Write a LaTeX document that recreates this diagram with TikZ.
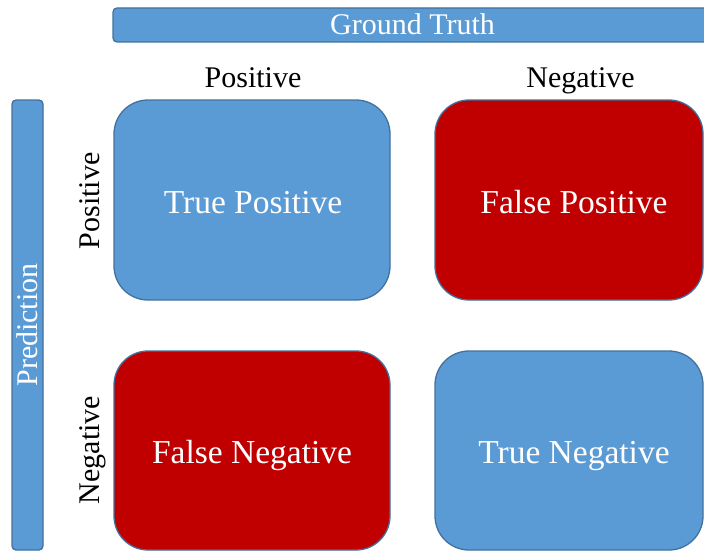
\documentclass[tikz,border=0pt]{standalone}
\usepackage{fontspec}
\setmainfont{Liberation Serif}
\definecolor{cellblue}{HTML}{5B9BD5}
\definecolor{cellred}{HTML}{C00000}
\definecolor{edgeblue}{HTML}{41719C}
\begin{document}
\begin{tikzpicture}[x=1pt,y=-1pt,
  cell/.style={draw=edgeblue, line width=1.3pt, rounded corners=34pt, inner sep=0pt},
  celltext/.style={inner sep=0pt, text=white, text height=22pt, text depth=0pt,
    font=\fontsize{33.5}{40}\selectfont},
  bar/.style={draw=edgeblue, fill=cellblue, line width=1.3pt, rounded corners=4pt,
    inner sep=0pt, text=white, text height=20pt, text depth=0pt,
    font=\fontsize{30}{36}\selectfont},
  axislabel/.style={inner sep=0pt, anchor=base, font=\fontsize{30}{36}\selectfont}]
  \useasboundingbox (0,0) rectangle (704,551);
  % axis bars
  \node[bar, minimum width=599pt, minimum height=34pt] (truth) at (412.5,25) {Ground Truth};
  \node[bar, rotate=90, minimum width=450pt, minimum height=31pt] (pred) at (27.5,325) {Prediction};
  % column and row headings
  \node[axislabel] (colpos) at (253,88) {Positive};
  \node[axislabel] (colneg) at (580.5,88) {Negative};
  \node[axislabel, rotate=90] (rowpos) at (99,201) {Positive};
  \node[axislabel, rotate=90] (rowneg) at (99,450) {Negative};
  % confusion matrix cells
  \node[cell, fill=cellblue, minimum width=276pt, minimum height=200pt] (tp) at (252,200) {};
  \node[cell, fill=cellred, minimum width=268pt, minimum height=200pt] (fp) at (569,200) {};
  \node[cell, fill=cellred, minimum width=276pt, minimum height=199pt] (fn) at (252,450.5) {};
  \node[cell, fill=cellblue, minimum width=268pt, minimum height=199pt] (tn) at (569,450.5) {};
  % cell captions
  \node[celltext] (tptext) at ([xshift=1pt,yshift=-2pt]tp.center) {True Positive};
  \node[celltext] (fptext) at ([xshift=5pt,yshift=-2pt]fp.center) {False Positive};
  \node[celltext] (fntext) at ([xshift=0pt,yshift=-2pt]fn.center) {False Negative};
  \node[celltext] (tntext) at ([xshift=5pt,yshift=-2pt]tn.center) {True Negative};
\end{tikzpicture}
\end{document}
